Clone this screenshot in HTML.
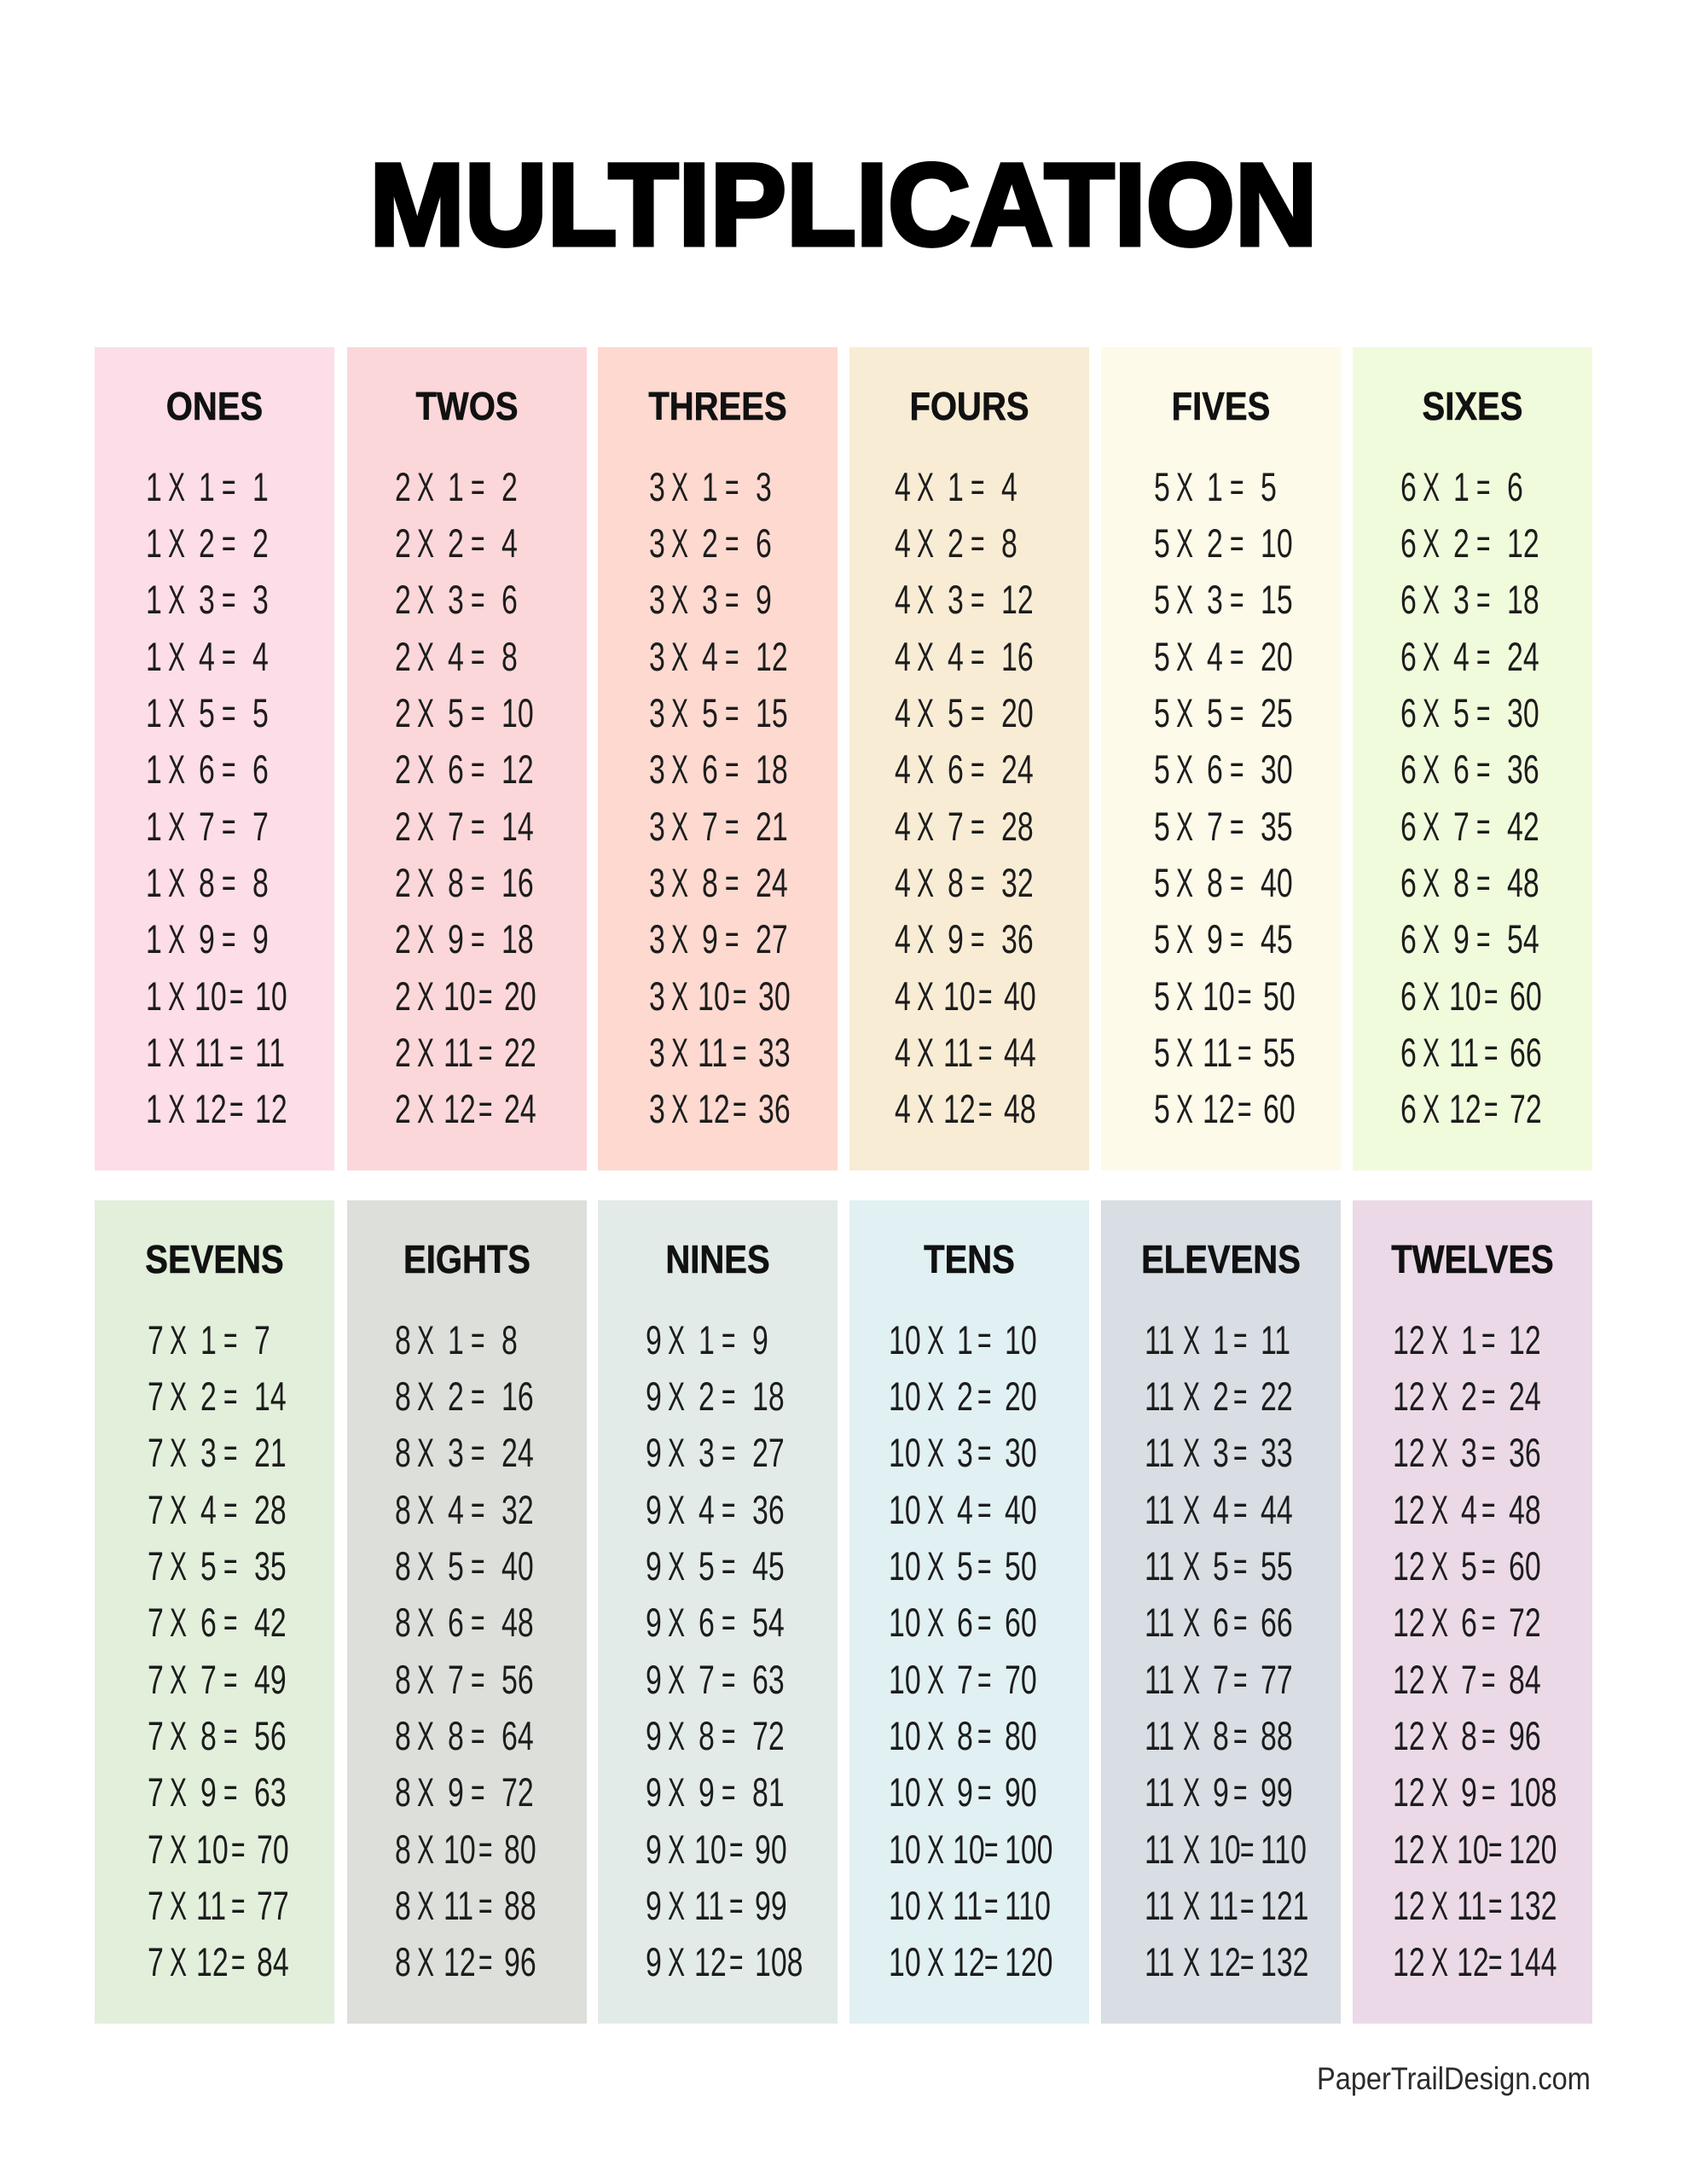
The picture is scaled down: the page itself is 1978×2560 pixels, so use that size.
<!DOCTYPE html>
<html>
<head>
<meta charset="utf-8">
<style>
html,body{margin:0;padding:0;background:#fff;}
body{width:1978px;height:2560px;position:relative;overflow:hidden;font-family:"Liberation Sans",Arial,sans-serif;}
.title{position:absolute;left:0;top:172px;width:1978px;text-align:center;font-weight:bold;font-size:137px;line-height:137px;color:#000;-webkit-text-stroke:5px #000;transform:scaleX(.978);transform-origin:987px 0;white-space:nowrap;}
.col{position:absolute;width:281px;height:965px;}
.h{position:absolute;left:0;top:46px;width:281px;text-align:center;font-weight:bold;font-size:46px;line-height:46px;color:#111;transform:scaleX(.87);transform-origin:140.5px 0;white-space:nowrap;-webkit-text-stroke:.6px #111;}
.rows{position:absolute;top:130.5px;}
.r{position:relative;height:66.36px;}
.r i{position:absolute;top:0;font-style:normal;font-weight:normal;font-size:47px;line-height:66.36px;color:#1c1c1c;transform:scaleX(.72);transform-origin:0 0;white-space:nowrap;}
.r i:nth-child(2){transform:scaleX(.64);}
.r i:nth-child(4){transform:scaleX(.6);}
.r i:nth-child(1){left:0}
.r i:nth-child(2){left:26px}
.r i:nth-child(3){left:62px}
.r i:nth-child(4){left:89px}
.r i:nth-child(5){left:125px}
.r:nth-child(n+10) i:nth-child(3){left:57px}
.r:nth-child(n+10) i:nth-child(4){left:98px}
.r:nth-child(n+10) i:nth-child(5){left:128px}
.d .r i:nth-child(2){left:45px}
.d .r i:nth-child(3){left:80px}
.d .r i:nth-child(4){left:104px}
.d .r i:nth-child(5){left:136px}
.d .r:nth-child(n+10) i:nth-child(3){left:75px}
.d .r:nth-child(n+10) i:nth-child(4){left:112px}
.d .r:nth-child(n+10) i:nth-child(5){left:136px}
.foot{position:absolute;left:1544px;top:2418px;font-size:37px;line-height:37px;color:#2b2b2b;transform:scaleX(.88);transform-origin:0 0;white-space:nowrap;}
</style>
</head>
<body>
<div class="title">MULTIPLICATION</div>

<!-- BLOCK 1 -->
<div class="col" style="left:111px;top:407px;background:#fddde7">
<div class="h">ONES</div>
<div class="rows" style="left:60px">
<div class="r"><i>1</i><i>X</i><i>1</i><i>=</i><i>1</i></div>
<div class="r"><i>1</i><i>X</i><i>2</i><i>=</i><i>2</i></div>
<div class="r"><i>1</i><i>X</i><i>3</i><i>=</i><i>3</i></div>
<div class="r"><i>1</i><i>X</i><i>4</i><i>=</i><i>4</i></div>
<div class="r"><i>1</i><i>X</i><i>5</i><i>=</i><i>5</i></div>
<div class="r"><i>1</i><i>X</i><i>6</i><i>=</i><i>6</i></div>
<div class="r"><i>1</i><i>X</i><i>7</i><i>=</i><i>7</i></div>
<div class="r"><i>1</i><i>X</i><i>8</i><i>=</i><i>8</i></div>
<div class="r"><i>1</i><i>X</i><i>9</i><i>=</i><i>9</i></div>
<div class="r"><i>1</i><i>X</i><i>10</i><i>=</i><i>10</i></div>
<div class="r"><i>1</i><i>X</i><i>11</i><i>=</i><i>11</i></div>
<div class="r"><i>1</i><i>X</i><i>12</i><i>=</i><i>12</i></div>
</div></div>

<div class="col" style="left:407px;top:407px;background:#fcd7d9">
<div class="h">TWOS</div>
<div class="rows" style="left:56px">
<div class="r"><i>2</i><i>X</i><i>1</i><i>=</i><i>2</i></div>
<div class="r"><i>2</i><i>X</i><i>2</i><i>=</i><i>4</i></div>
<div class="r"><i>2</i><i>X</i><i>3</i><i>=</i><i>6</i></div>
<div class="r"><i>2</i><i>X</i><i>4</i><i>=</i><i>8</i></div>
<div class="r"><i>2</i><i>X</i><i>5</i><i>=</i><i>10</i></div>
<div class="r"><i>2</i><i>X</i><i>6</i><i>=</i><i>12</i></div>
<div class="r"><i>2</i><i>X</i><i>7</i><i>=</i><i>14</i></div>
<div class="r"><i>2</i><i>X</i><i>8</i><i>=</i><i>16</i></div>
<div class="r"><i>2</i><i>X</i><i>9</i><i>=</i><i>18</i></div>
<div class="r"><i>2</i><i>X</i><i>10</i><i>=</i><i>20</i></div>
<div class="r"><i>2</i><i>X</i><i>11</i><i>=</i><i>22</i></div>
<div class="r"><i>2</i><i>X</i><i>12</i><i>=</i><i>24</i></div>
</div></div>

<div class="col" style="left:701px;top:407px;background:#fdd9d0">
<div class="h">THREES</div>
<div class="rows" style="left:60px">
<div class="r"><i>3</i><i>X</i><i>1</i><i>=</i><i>3</i></div>
<div class="r"><i>3</i><i>X</i><i>2</i><i>=</i><i>6</i></div>
<div class="r"><i>3</i><i>X</i><i>3</i><i>=</i><i>9</i></div>
<div class="r"><i>3</i><i>X</i><i>4</i><i>=</i><i>12</i></div>
<div class="r"><i>3</i><i>X</i><i>5</i><i>=</i><i>15</i></div>
<div class="r"><i>3</i><i>X</i><i>6</i><i>=</i><i>18</i></div>
<div class="r"><i>3</i><i>X</i><i>7</i><i>=</i><i>21</i></div>
<div class="r"><i>3</i><i>X</i><i>8</i><i>=</i><i>24</i></div>
<div class="r"><i>3</i><i>X</i><i>9</i><i>=</i><i>27</i></div>
<div class="r"><i>3</i><i>X</i><i>10</i><i>=</i><i>30</i></div>
<div class="r"><i>3</i><i>X</i><i>11</i><i>=</i><i>33</i></div>
<div class="r"><i>3</i><i>X</i><i>12</i><i>=</i><i>36</i></div>
</div></div>

<div class="col" style="left:996px;top:407px;background:#f9ecd5">
<div class="h">FOURS</div>
<div class="rows" style="left:53px">
<div class="r"><i>4</i><i>X</i><i>1</i><i>=</i><i>4</i></div>
<div class="r"><i>4</i><i>X</i><i>2</i><i>=</i><i>8</i></div>
<div class="r"><i>4</i><i>X</i><i>3</i><i>=</i><i>12</i></div>
<div class="r"><i>4</i><i>X</i><i>4</i><i>=</i><i>16</i></div>
<div class="r"><i>4</i><i>X</i><i>5</i><i>=</i><i>20</i></div>
<div class="r"><i>4</i><i>X</i><i>6</i><i>=</i><i>24</i></div>
<div class="r"><i>4</i><i>X</i><i>7</i><i>=</i><i>28</i></div>
<div class="r"><i>4</i><i>X</i><i>8</i><i>=</i><i>32</i></div>
<div class="r"><i>4</i><i>X</i><i>9</i><i>=</i><i>36</i></div>
<div class="r"><i>4</i><i>X</i><i>10</i><i>=</i><i>40</i></div>
<div class="r"><i>4</i><i>X</i><i>11</i><i>=</i><i>44</i></div>
<div class="r"><i>4</i><i>X</i><i>12</i><i>=</i><i>48</i></div>
</div></div>

<div class="col" style="left:1291px;top:407px;background:#fdfaea">
<div class="h">FIVES</div>
<div class="rows" style="left:61.5px">
<div class="r"><i>5</i><i>X</i><i>1</i><i>=</i><i>5</i></div>
<div class="r"><i>5</i><i>X</i><i>2</i><i>=</i><i>10</i></div>
<div class="r"><i>5</i><i>X</i><i>3</i><i>=</i><i>15</i></div>
<div class="r"><i>5</i><i>X</i><i>4</i><i>=</i><i>20</i></div>
<div class="r"><i>5</i><i>X</i><i>5</i><i>=</i><i>25</i></div>
<div class="r"><i>5</i><i>X</i><i>6</i><i>=</i><i>30</i></div>
<div class="r"><i>5</i><i>X</i><i>7</i><i>=</i><i>35</i></div>
<div class="r"><i>5</i><i>X</i><i>8</i><i>=</i><i>40</i></div>
<div class="r"><i>5</i><i>X</i><i>9</i><i>=</i><i>45</i></div>
<div class="r"><i>5</i><i>X</i><i>10</i><i>=</i><i>50</i></div>
<div class="r"><i>5</i><i>X</i><i>11</i><i>=</i><i>55</i></div>
<div class="r"><i>5</i><i>X</i><i>12</i><i>=</i><i>60</i></div>
</div></div>

<div class="col" style="left:1586px;top:407px;background:#f0fbdc">
<div class="h">SIXES</div>
<div class="rows" style="left:56px">
<div class="r"><i>6</i><i>X</i><i>1</i><i>=</i><i>6</i></div>
<div class="r"><i>6</i><i>X</i><i>2</i><i>=</i><i>12</i></div>
<div class="r"><i>6</i><i>X</i><i>3</i><i>=</i><i>18</i></div>
<div class="r"><i>6</i><i>X</i><i>4</i><i>=</i><i>24</i></div>
<div class="r"><i>6</i><i>X</i><i>5</i><i>=</i><i>30</i></div>
<div class="r"><i>6</i><i>X</i><i>6</i><i>=</i><i>36</i></div>
<div class="r"><i>6</i><i>X</i><i>7</i><i>=</i><i>42</i></div>
<div class="r"><i>6</i><i>X</i><i>8</i><i>=</i><i>48</i></div>
<div class="r"><i>6</i><i>X</i><i>9</i><i>=</i><i>54</i></div>
<div class="r"><i>6</i><i>X</i><i>10</i><i>=</i><i>60</i></div>
<div class="r"><i>6</i><i>X</i><i>11</i><i>=</i><i>66</i></div>
<div class="r"><i>6</i><i>X</i><i>12</i><i>=</i><i>72</i></div>
</div></div>

<!-- BLOCK 2 -->
<div class="col" style="left:111px;top:1407px;background:#e2efdb">
<div class="h">SEVENS</div>
<div class="rows" style="left:61.5px">
<div class="r"><i>7</i><i>X</i><i>1</i><i>=</i><i>7</i></div>
<div class="r"><i>7</i><i>X</i><i>2</i><i>=</i><i>14</i></div>
<div class="r"><i>7</i><i>X</i><i>3</i><i>=</i><i>21</i></div>
<div class="r"><i>7</i><i>X</i><i>4</i><i>=</i><i>28</i></div>
<div class="r"><i>7</i><i>X</i><i>5</i><i>=</i><i>35</i></div>
<div class="r"><i>7</i><i>X</i><i>6</i><i>=</i><i>42</i></div>
<div class="r"><i>7</i><i>X</i><i>7</i><i>=</i><i>49</i></div>
<div class="r"><i>7</i><i>X</i><i>8</i><i>=</i><i>56</i></div>
<div class="r"><i>7</i><i>X</i><i>9</i><i>=</i><i>63</i></div>
<div class="r"><i>7</i><i>X</i><i>10</i><i>=</i><i>70</i></div>
<div class="r"><i>7</i><i>X</i><i>11</i><i>=</i><i>77</i></div>
<div class="r"><i>7</i><i>X</i><i>12</i><i>=</i><i>84</i></div>
</div></div>

<div class="col" style="left:407px;top:1407px;background:#dddfda">
<div class="h">EIGHTS</div>
<div class="rows" style="left:55.5px">
<div class="r"><i>8</i><i>X</i><i>1</i><i>=</i><i>8</i></div>
<div class="r"><i>8</i><i>X</i><i>2</i><i>=</i><i>16</i></div>
<div class="r"><i>8</i><i>X</i><i>3</i><i>=</i><i>24</i></div>
<div class="r"><i>8</i><i>X</i><i>4</i><i>=</i><i>32</i></div>
<div class="r"><i>8</i><i>X</i><i>5</i><i>=</i><i>40</i></div>
<div class="r"><i>8</i><i>X</i><i>6</i><i>=</i><i>48</i></div>
<div class="r"><i>8</i><i>X</i><i>7</i><i>=</i><i>56</i></div>
<div class="r"><i>8</i><i>X</i><i>8</i><i>=</i><i>64</i></div>
<div class="r"><i>8</i><i>X</i><i>9</i><i>=</i><i>72</i></div>
<div class="r"><i>8</i><i>X</i><i>10</i><i>=</i><i>80</i></div>
<div class="r"><i>8</i><i>X</i><i>11</i><i>=</i><i>88</i></div>
<div class="r"><i>8</i><i>X</i><i>12</i><i>=</i><i>96</i></div>
</div></div>

<div class="col" style="left:701px;top:1407px;background:#e2ebe7">
<div class="h">NINES</div>
<div class="rows" style="left:56px">
<div class="r"><i>9</i><i>X</i><i>1</i><i>=</i><i>9</i></div>
<div class="r"><i>9</i><i>X</i><i>2</i><i>=</i><i>18</i></div>
<div class="r"><i>9</i><i>X</i><i>3</i><i>=</i><i>27</i></div>
<div class="r"><i>9</i><i>X</i><i>4</i><i>=</i><i>36</i></div>
<div class="r"><i>9</i><i>X</i><i>5</i><i>=</i><i>45</i></div>
<div class="r"><i>9</i><i>X</i><i>6</i><i>=</i><i>54</i></div>
<div class="r"><i>9</i><i>X</i><i>7</i><i>=</i><i>63</i></div>
<div class="r"><i>9</i><i>X</i><i>8</i><i>=</i><i>72</i></div>
<div class="r"><i>9</i><i>X</i><i>9</i><i>=</i><i>81</i></div>
<div class="r"><i>9</i><i>X</i><i>10</i><i>=</i><i>90</i></div>
<div class="r"><i>9</i><i>X</i><i>11</i><i>=</i><i>99</i></div>
<div class="r"><i>9</i><i>X</i><i>12</i><i>=</i><i>108</i></div>
</div></div>

<div class="col d" style="left:996px;top:1407px;background:#e1f0f3">
<div class="h">TENS</div>
<div class="rows" style="left:46px">
<div class="r"><i>10</i><i>X</i><i>1</i><i>=</i><i>10</i></div>
<div class="r"><i>10</i><i>X</i><i>2</i><i>=</i><i>20</i></div>
<div class="r"><i>10</i><i>X</i><i>3</i><i>=</i><i>30</i></div>
<div class="r"><i>10</i><i>X</i><i>4</i><i>=</i><i>40</i></div>
<div class="r"><i>10</i><i>X</i><i>5</i><i>=</i><i>50</i></div>
<div class="r"><i>10</i><i>X</i><i>6</i><i>=</i><i>60</i></div>
<div class="r"><i>10</i><i>X</i><i>7</i><i>=</i><i>70</i></div>
<div class="r"><i>10</i><i>X</i><i>8</i><i>=</i><i>80</i></div>
<div class="r"><i>10</i><i>X</i><i>9</i><i>=</i><i>90</i></div>
<div class="r"><i>10</i><i>X</i><i>10</i><i>=</i><i>100</i></div>
<div class="r"><i>10</i><i>X</i><i>11</i><i>=</i><i>110</i></div>
<div class="r"><i>10</i><i>X</i><i>12</i><i>=</i><i>120</i></div>
</div></div>

<div class="col d" style="left:1291px;top:1407px;background:#d8dee4">
<div class="h">ELEVENS</div>
<div class="rows" style="left:50.5px">
<div class="r"><i>11</i><i>X</i><i>1</i><i>=</i><i>11</i></div>
<div class="r"><i>11</i><i>X</i><i>2</i><i>=</i><i>22</i></div>
<div class="r"><i>11</i><i>X</i><i>3</i><i>=</i><i>33</i></div>
<div class="r"><i>11</i><i>X</i><i>4</i><i>=</i><i>44</i></div>
<div class="r"><i>11</i><i>X</i><i>5</i><i>=</i><i>55</i></div>
<div class="r"><i>11</i><i>X</i><i>6</i><i>=</i><i>66</i></div>
<div class="r"><i>11</i><i>X</i><i>7</i><i>=</i><i>77</i></div>
<div class="r"><i>11</i><i>X</i><i>8</i><i>=</i><i>88</i></div>
<div class="r"><i>11</i><i>X</i><i>9</i><i>=</i><i>99</i></div>
<div class="r"><i>11</i><i>X</i><i>10</i><i>=</i><i>110</i></div>
<div class="r"><i>11</i><i>X</i><i>11</i><i>=</i><i>121</i></div>
<div class="r"><i>11</i><i>X</i><i>12</i><i>=</i><i>132</i></div>
</div></div>

<div class="col d" style="left:1586px;top:1407px;background:#ebd9e8">
<div class="h">TWELVES</div>
<div class="rows" style="left:47px">
<div class="r"><i>12</i><i>X</i><i>1</i><i>=</i><i>12</i></div>
<div class="r"><i>12</i><i>X</i><i>2</i><i>=</i><i>24</i></div>
<div class="r"><i>12</i><i>X</i><i>3</i><i>=</i><i>36</i></div>
<div class="r"><i>12</i><i>X</i><i>4</i><i>=</i><i>48</i></div>
<div class="r"><i>12</i><i>X</i><i>5</i><i>=</i><i>60</i></div>
<div class="r"><i>12</i><i>X</i><i>6</i><i>=</i><i>72</i></div>
<div class="r"><i>12</i><i>X</i><i>7</i><i>=</i><i>84</i></div>
<div class="r"><i>12</i><i>X</i><i>8</i><i>=</i><i>96</i></div>
<div class="r"><i>12</i><i>X</i><i>9</i><i>=</i><i>108</i></div>
<div class="r"><i>12</i><i>X</i><i>10</i><i>=</i><i>120</i></div>
<div class="r"><i>12</i><i>X</i><i>11</i><i>=</i><i>132</i></div>
<div class="r"><i>12</i><i>X</i><i>12</i><i>=</i><i>144</i></div>
</div></div>

<div class="foot">PaperTrailDesign.com</div>
</body>
</html>
